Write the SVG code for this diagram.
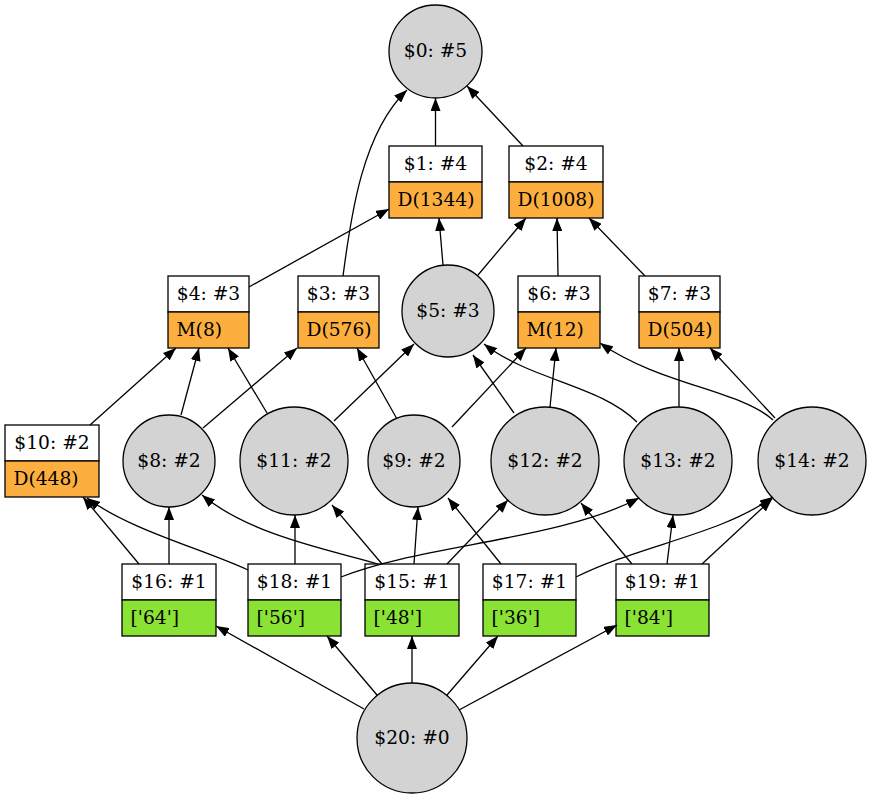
<svg xmlns="http://www.w3.org/2000/svg" width="872" height="798" viewBox="0 0 872 798">
<defs>
<marker id="ah" markerUnits="userSpaceOnUse" markerWidth="14" markerHeight="10" viewBox="0 0 14 10" refX="13" refY="5" orient="auto">
<path d="M0,0 L13,5 L0,10 z" fill="#000"/>
</marker>
</defs>
<style>
text{font-family:"DejaVu Serif","Liberation Serif",serif;font-size:18.67px;fill:#000}
.c{text-anchor:middle}
circle{fill:#d3d3d3;stroke:#000;stroke-width:1.3}
.w{fill:#fff;stroke:#000;stroke-width:1.3}
.o{fill:#fcaf3e;stroke:#000;stroke-width:1.3}
.g{fill:#8ae234;stroke:#000;stroke-width:1.3}
#edges path{fill:none;stroke:#000;stroke-width:1.3;marker-end:url(#ah)}
</style>
<rect width="872" height="798" fill="#fff"/>
<g id="n0"><circle cx="435.5" cy="51.5" r="46.5"/><text class="c" x="435.5" y="57">$0: #5</text></g>
<g id="n1"><rect class="w" x="389" y="146" width="93" height="36"/><rect class="o" x="389" y="182" width="93" height="36"/><text class="c" x="435.5" y="169.5">$1: #4</text><text x="397.5" y="205.5">D(1344)</text></g>
<g id="n2"><rect class="w" x="509" y="146" width="94" height="36"/><rect class="o" x="509" y="182" width="94" height="36"/><text class="c" x="556" y="169.5">$2: #4</text><text x="517.5" y="205.5">D(1008)</text></g>
<g id="n4"><rect class="w" x="168" y="276" width="81" height="36"/><rect class="o" x="168" y="312" width="81" height="36"/><text class="c" x="208.5" y="299.5">$4: #3</text><text x="176.5" y="335.5">M(8)</text></g>
<g id="n3"><rect class="w" x="298" y="276" width="81" height="36"/><rect class="o" x="298" y="312" width="81" height="36"/><text class="c" x="338.5" y="299.5">$3: #3</text><text x="306.5" y="335.5">D(576)</text></g>
<g id="n5"><circle cx="448" cy="311" r="46"/><text class="c" x="448" y="316.5">$5: #3</text></g>
<g id="n6"><rect class="w" x="518" y="276" width="82" height="36"/><rect class="o" x="518" y="312" width="82" height="36"/><text class="c" x="559" y="299.5">$6: #3</text><text x="526.5" y="335.5">M(12)</text></g>
<g id="n7"><rect class="w" x="639" y="276" width="81" height="36"/><rect class="o" x="639" y="312" width="81" height="36"/><text class="c" x="679.5" y="299.5">$7: #3</text><text x="647.5" y="335.5">D(504)</text></g>
<g id="n10"><rect class="w" x="5" y="425" width="94" height="36"/><rect class="o" x="5" y="461" width="94" height="36"/><text class="c" x="52" y="448.5">$10: #2</text><text x="13.5" y="484.5">D(448)</text></g>
<g id="n8"><circle cx="169" cy="461" r="46"/><text class="c" x="169" y="466.5">$8: #2</text></g>
<g id="n11"><circle cx="294" cy="461" r="54"/><text class="c" x="294" y="466.5">$11: #2</text></g>
<g id="n9"><circle cx="414" cy="461" r="46"/><text class="c" x="414" y="466.5">$9: #2</text></g>
<g id="n12"><circle cx="545" cy="461" r="54"/><text class="c" x="545" y="466.5">$12: #2</text></g>
<g id="n13"><circle cx="678" cy="461" r="54"/><text class="c" x="678" y="466.5">$13: #2</text></g>
<g id="n14"><circle cx="812" cy="461" r="54"/><text class="c" x="812" y="466.5">$14: #2</text></g>
<g id="n16"><rect class="w" x="122" y="564" width="94" height="36"/><rect class="g" x="122" y="600" width="94" height="36"/><text class="c" x="169" y="587.5">$16: #1</text><text x="130.5" y="623.5">['64']</text></g>
<g id="n18"><rect class="w" x="248" y="564" width="93" height="36"/><rect class="g" x="248" y="600" width="93" height="36"/><text class="c" x="294.5" y="587.5">$18: #1</text><text x="256.5" y="623.5">['56']</text></g>
<g id="n15"><rect class="w" x="365" y="564" width="94" height="36"/><rect class="g" x="365" y="600" width="94" height="36"/><text class="c" x="412" y="587.5">$15: #1</text><text x="373.5" y="623.5">['48']</text></g>
<g id="n17"><rect class="w" x="483" y="564" width="93" height="36"/><rect class="g" x="483" y="600" width="93" height="36"/><text class="c" x="529.5" y="587.5">$17: #1</text><text x="491.5" y="623.5">['36']</text></g>
<g id="n19"><rect class="w" x="616" y="564" width="93" height="36"/><rect class="g" x="616" y="600" width="93" height="36"/><text class="c" x="662.5" y="587.5">$19: #1</text><text x="624.5" y="623.5">['84']</text></g>
<g id="n20"><circle cx="412" cy="738" r="55"/><text class="c" x="412" y="743.5">$20: #0</text></g>
<g id="edges">
<path d="M435.5,146 L435.5,98"/>
<path d="M523,146 L467,86"/>
<path d="M343,276 C350,225 360,135 407,90"/>
<path d="M249,287 L389,209"/>
<path d="M443,265 L439,218"/>
<path d="M478,275 L526,218"/>
<path d="M558,276 L557,218"/>
<path d="M645,276 L589,218"/>
<path d="M90,425 L176,348"/>
<path d="M181,415 L199,348"/>
<path d="M267,413 L228,348"/>
<path d="M203,428 L297,348"/>
<path d="M397,419 L357,348"/>
<path d="M334,421 L414,344"/>
<path d="M514,413 L473,355"/>
<path d="M637,422 C600,385 530,380 484,344"/>
<path d="M452,427 L526,348"/>
<path d="M550,407 L556,348"/>
<path d="M773,420 C740,390 660,385 600,343"/>
<path d="M679,407 L679,348"/>
<path d="M775,418 L710,348"/>
<path d="M139,564 L83,497"/>
<path d="M248,570 C200,548 130,530 87,498"/>
<path d="M169,564 L169,507"/>
<path d="M378,564 C330,550 250,535 202,495"/>
<path d="M295,564 L295,515"/>
<path d="M382,564 L332,505"/>
<path d="M414,564 L418,507"/>
<path d="M501,564 L448,498"/>
<path d="M447,564 L508,500"/>
<path d="M341,577 C420,545 560,540 639,498"/>
<path d="M632,564 L581,503"/>
<path d="M667,564 L673,515"/>
<path d="M576,577 C640,545 720,535 773,497"/>
<path d="M702,564 L772,499"/>
<path d="M364,709 L216,626"/>
<path d="M377,695 L327,636"/>
<path d="M412,683 L412,636"/>
<path d="M447,695 L498,636"/>
<path d="M459,710 L617,625"/>
</g>
</svg>
